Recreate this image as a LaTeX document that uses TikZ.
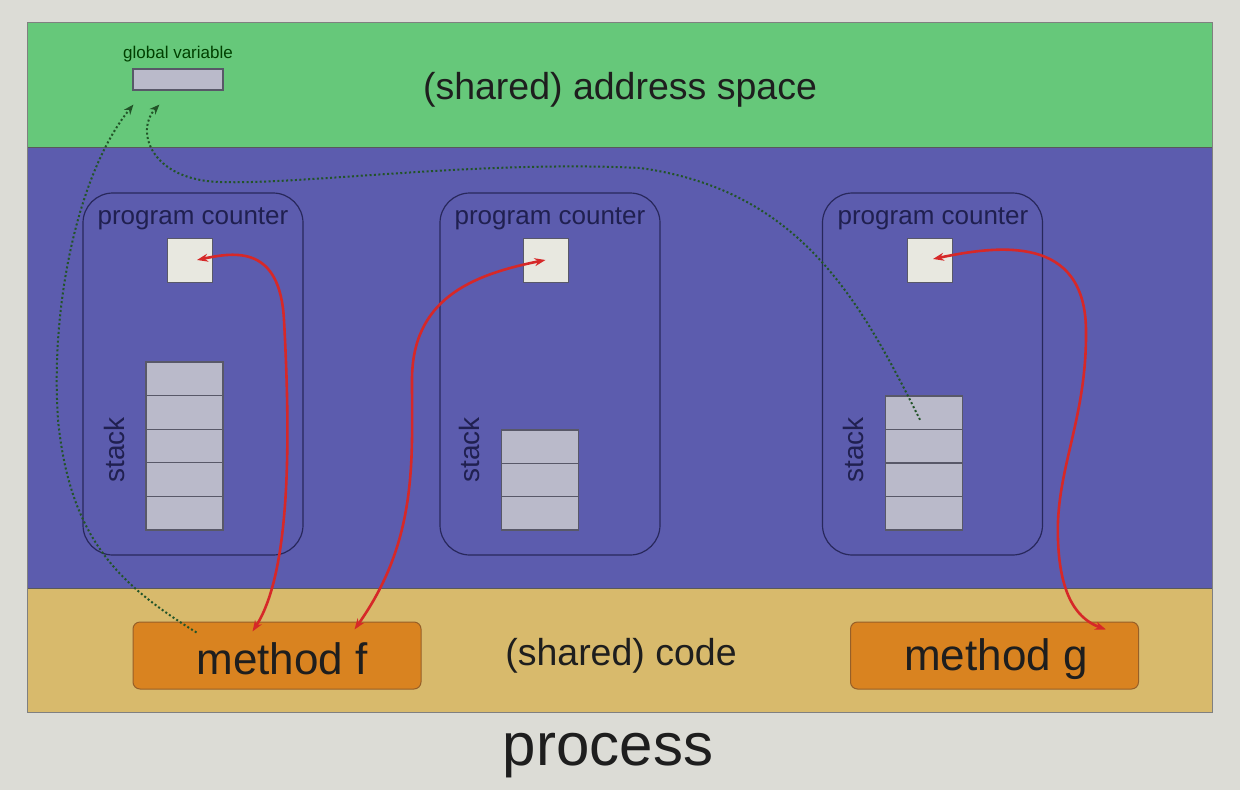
\documentclass[tikz,border=0pt]{standalone}
\usepackage{fontspec}
\setmainfont{Liberation Sans}
\usetikzlibrary{arrows.meta,calc}
\definecolor{bgc}{RGB}{220,220,214}
\definecolor{greenc}{RGB}{102,200,122}
\definecolor{bluec}{RGB}{92,92,174}
\definecolor{tanc}{RGB}{216,186,108}
\definecolor{orangec}{RGB}{217,131,32}
\definecolor{orangeb}{RGB}{150,95,40}
\definecolor{cellc}{RGB}{186,186,202}
\definecolor{cellb}{RGB}{88,88,104}
\definecolor{pcc}{RGB}{232,232,224}
\definecolor{navyc}{RGB}{32,32,80}
\definecolor{threadb}{RGB}{40,40,92}
\definecolor{redc}{RGB}{214,40,40}
\definecolor{dotc}{RGB}{34,84,40}
\definecolor{textc}{RGB}{30,30,30}
\begin{document}
\begin{tikzpicture}[x=1pt,y=-1pt,
  lbl/.style={inner sep=0pt, anchor=center},
  thread/.style={draw=threadb, line width=1.2pt, rounded corners=30pt, minimum width=220pt, minimum height=362pt, inner sep=0pt},
  pcbox/.style={draw=cellb, line width=1pt, fill=pcc, minimum width=45pt, minimum height=44pt, inner sep=0pt},
  cell/.style={draw=cellb, line width=1.2pt, fill=cellc, minimum width=77pt, minimum height=33.6pt, inner sep=0pt},
  gvbox/.style={draw=cellb, line width=1.2pt, fill=cellc, minimum width=90pt, minimum height=21pt, inner sep=0pt},
  method/.style={draw=orangeb, line width=1pt, fill=orangec, rounded corners=7pt, minimum width=288pt, minimum height=67pt, inner sep=0pt, font=\fontsize{44}{48}\selectfont, text=textc},
  pclabel/.style={lbl, text=navyc, font=\fontsize{26}{30}\selectfont},
  stacklabel/.style={lbl, text=navyc, rotate=90, font=\fontsize{28}{32}\selectfont},
  bigtext/.style={lbl, text=textc, font=\fontsize{37.5}{42}\selectfont},
  redarrow/.style={draw=redc, line width=2.6pt, {Stealth[length=11pt,width=8pt]}-{Stealth[length=11pt,width=8pt]}},
  dotarrow/.style={draw=dotc, line width=2pt, dash pattern=on 2pt off 2.4pt, -{Stealth[length=10pt,width=8pt]}}
]
\useasboundingbox (0,0) rectangle (1240,790);
\fill[bgc] (0,0) rectangle (1240,790);
% bands
\fill[greenc] (27,22) rectangle (1212,147);
\fill[bluec] (27,147) rectangle (1212,588);
\fill[tanc] (27,588) rectangle (1212,712);
\draw[gray!70!black, line width=0.8pt] (27,147) -- (1212,147) (27,588) -- (1212,588);
\draw[gray, line width=1pt] (27,22) rectangle (1212,712);

% texts of bands
\node[bigtext] (addr) at (620,90) {(shared) address space};
\node[bigtext] (code) at (621,656) {(shared) code};
\node[lbl, text=textc, font=\fontsize{60}{66}\selectfont] (proc) at (608,756) {process};

% global variable
\node[lbl, text=black!75!green, font=\fontsize{17}{20}\selectfont] (gvl) at (178,54) {global variable};
\node[gvbox] (gv) at (178,79.5) {};

% threads
\node[thread] (t1) at (193,374) {};
\node[thread] (t2) at (550,374) {};
\node[thread] (t3) at (932.5,374) {};
\node[pclabel] (pcl1) at (193,219) {program counter};
\node[pclabel] (pcl2) at (550,219) {program counter};
\node[pclabel] (pcl3) at (933,219) {program counter};
\node[pcbox] (pc1) at (190,260) {};
\node[pcbox] (pc2) at (545.5,260) {};
\node[pcbox] (pc3) at (930,260) {};
\node[stacklabel] (sl1) at (114,450) {stack};
\node[stacklabel] (sl2) at (469,450) {stack};
\node[stacklabel] (sl3) at (853,450) {stack};

% stacks
\foreach \i in {0,...,4} \node[cell] (s1c\i) at (184.5,{378.8+33.6*\i}) {};
\foreach \i in {0,...,2} \node[cell, minimum height=33.3pt] (s2c\i) at (540,{446.7+33.3*\i}) {};
\foreach \i in {0,...,3} \node[cell, minimum height=33.5pt] (s3c\i) at (924,{412.75+33.5*\i}) {};

% methods
\node[method] (mf) at (277,655.5) {};
\node[lbl, text=textc, font=\fontsize{44}{48}\selectfont] (mft) at (282,659) {method f};
\node[method] (mg) at (994.5,655.5) {};
\node[lbl, text=textc, font=\fontsize{44}{48}\selectfont] (mgt) at (996,659) {method g};

% connector end points
\coordinate (mfA) at ($(mf.north west)+(120,10)$);
\coordinate (mfB) at ($(mf.north west)+(222,8)$);
\coordinate (mfC) at ($(mf.north west)+(64,11)$);
\coordinate (mgA) at ($(mg.north west)+(256,8)$);
\coordinate (pc1t) at ($(pc1.center)+(7,0)$);
\coordinate (pc2t) at ($(pc2.center)+(0,0)$);
\coordinate (pc3t) at ($(pc3.center)+(3,-1)$);
\coordinate (gvA) at ($(gv.south west)+(1,14)$);
\coordinate (gvB) at ($(gv.south west)+(27,14)$);
\coordinate (st3) at ($(s3c0.center)+(-4,7)$);

% red arrows
\draw[redarrow] (pc1t) .. controls (235,252) and (280,245) .. (284,320)
   .. controls (290,430) and (292,570) .. (mfA);
\draw[redarrow] (pc2t) .. controls (470,275) and (412,300) .. (412,380)
   .. controls (412,460) and (418,540) .. (mfB);
\draw[redarrow] (pc3t) .. controls (1000,245) and (1085,235) .. (1086,330)
   .. controls (1087,420) and (1055,470) .. (1058,540)
   .. controls (1060,600) and (1080,620) .. (mgA);

% dotted arrows
\draw[dotarrow] (mfC) .. controls (120,585) and (70,540) .. (58,420)
   .. controls (50,300) and (80,170) .. (gvA);
\draw[dotarrow] (st3) .. controls (860,300) and (800,190) .. (640,168)
   .. controls (480,160) and (300,185) .. (220,182)
   .. controls (150,180) and (135,130) .. (gvB);
\end{tikzpicture}
\end{document}
